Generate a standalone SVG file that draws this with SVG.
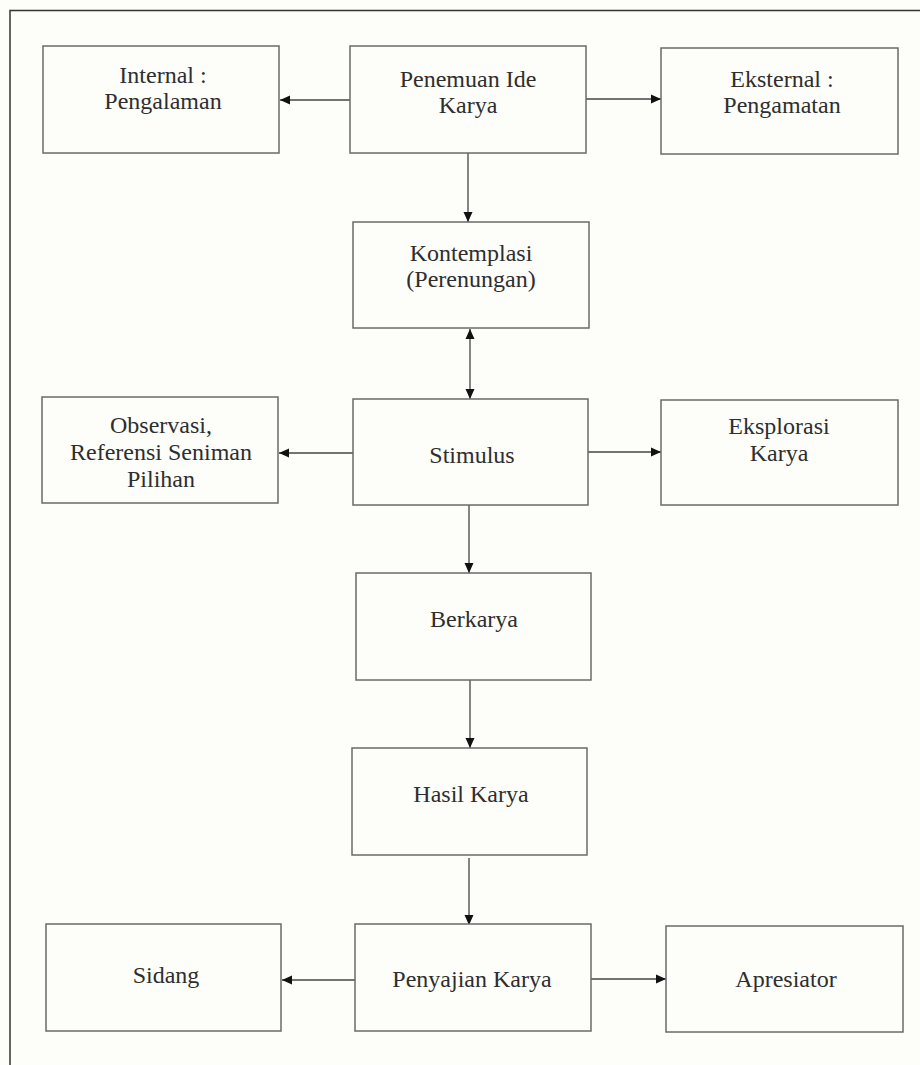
<svg xmlns="http://www.w3.org/2000/svg" width="920" height="1065" viewBox="0 0 920 1065">
<style>
.box{fill:#fdfdf9;stroke:#6a6a6a;stroke-width:1.5}
.t{font-family:"Liberation Serif","Times New Roman",serif;font-size:24px;fill:#2e2e2e;text-anchor:middle}
.c{stroke:#444;stroke-width:1.3;fill:none}
</style>
<defs>
<marker id="ah" markerUnits="userSpaceOnUse" markerWidth="11" markerHeight="10" refX="10" refY="5" orient="auto-start-reverse">
<path d="M0,0.5 L10,5 L0,9.5 z" fill="#111"/>
</marker>
</defs>
<rect width="920" height="1065" fill="#fdfdf9"/>
<path d="M10,1065 V10.5 H920" fill="none" stroke="#333" stroke-width="1.5"/>

<g id="connectors">
<line class="c" x1="350" y1="100" x2="280" y2="100" marker-end="url(#ah)"/>
<line class="c" x1="586" y1="99" x2="661" y2="99" marker-end="url(#ah)"/>
<line class="c" x1="468" y1="153" x2="468" y2="222" marker-end="url(#ah)"/>
<line class="c" x1="470" y1="329" x2="470" y2="399" marker-start="url(#ah)" marker-end="url(#ah)"/>
<line class="c" x1="353" y1="453" x2="279" y2="453" marker-end="url(#ah)"/>
<line class="c" x1="586" y1="452" x2="661" y2="452" marker-end="url(#ah)"/>
<line class="c" x1="469" y1="505" x2="469" y2="573" marker-end="url(#ah)"/>
<line class="c" x1="470" y1="680" x2="470" y2="748" marker-end="url(#ah)"/>
<line class="c" x1="469" y1="858" x2="469" y2="925" marker-end="url(#ah)"/>
<line class="c" x1="355" y1="980" x2="282" y2="980" marker-end="url(#ah)"/>
<line class="c" x1="591" y1="979" x2="666" y2="979" marker-end="url(#ah)"/>
</g>

<g id="internal">
<rect class="box" x="43" y="46" width="236" height="107"/>
<text class="t" x="163" y="83">Internal :</text>
<text class="t" x="163" y="109">Pengalaman</text>
</g>
<g id="penemuan">
<rect class="box" x="350" y="46" width="236" height="107"/>
<text class="t" x="468" y="87">Penemuan Ide</text>
<text class="t" x="468" y="113">Karya</text>
</g>
<g id="eksternal">
<rect class="box" x="661" y="48" width="237" height="106"/>
<text class="t" x="782" y="87">Eksternal :</text>
<text class="t" x="782" y="113">Pengamatan</text>
</g>
<g id="kontemplasi">
<rect class="box" x="353" y="222" width="236" height="106"/>
<text class="t" x="471" y="261">Kontemplasi</text>
<text class="t" x="471" y="287">(Perenungan)</text>
</g>
<g id="observasi">
<rect class="box" x="42" y="397" width="236" height="106"/>
<text class="t" x="161" y="433">Observasi,</text>
<text class="t" x="161" y="460">Referensi Seniman</text>
<text class="t" x="161" y="487">Pilihan</text>
</g>
<g id="stimulus">
<rect class="box" x="353" y="399" width="235" height="106"/>
<text class="t" x="472" y="463">Stimulus</text>
</g>
<g id="eksplorasi">
<rect class="box" x="661" y="400" width="237" height="105"/>
<text class="t" x="779" y="434">Eksplorasi</text>
<text class="t" x="779" y="461">Karya</text>
</g>
<g id="berkarya">
<rect class="box" x="356" y="573" width="235" height="107"/>
<text class="t" x="474" y="627">Berkarya</text>
</g>
<g id="hasil">
<rect class="box" x="352" y="748" width="235" height="107"/>
<text class="t" x="471" y="802">Hasil Karya</text>
</g>
<g id="sidang">
<rect class="box" x="46" y="924" width="235" height="107"/>
<text class="t" x="166" y="983">Sidang</text>
</g>
<g id="penyajian">
<rect class="box" x="355" y="924" width="236" height="107"/>
<text class="t" x="472" y="987">Penyajian Karya</text>
</g>
<g id="apresiator">
<rect class="box" x="666" y="926" width="237" height="106"/>
<text class="t" x="786" y="987">Apresiator</text>
</g>
</svg>
